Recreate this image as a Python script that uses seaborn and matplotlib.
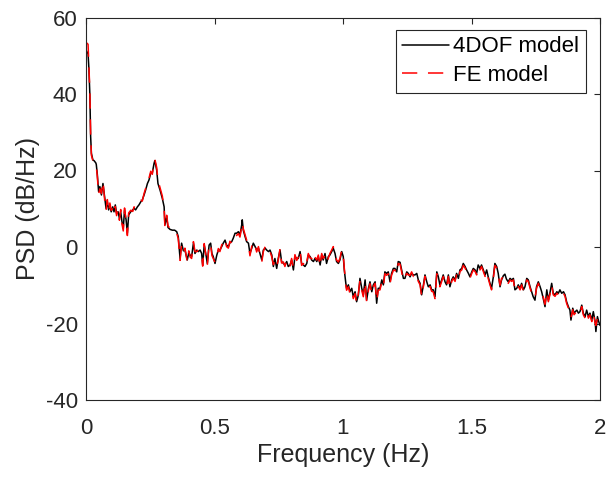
import numpy as np
import pandas as pd
import matplotlib
matplotlib.use("Agg")
import matplotlib.pyplot as plt
import seaborn as sns

freq = [
    0.000, 0.008, 0.011, 0.015, 0.018, 0.021, 0.027, 0.031, 0.038, 0.040,
    0.044, 0.049, 0.054, 0.060, 0.066, 0.073, 0.078, 0.083, 0.088, 0.093,
    0.098, 0.104, 0.109, 0.114, 0.119, 0.125, 0.130, 0.135, 0.140, 0.145,
    0.150, 0.156, 0.161, 0.166, 0.174, 0.182, 0.187, 0.193, 0.200, 0.206,
    0.213, 0.219, 0.226, 0.232, 0.239, 0.245, 0.252, 0.258, 0.265, 0.268,
    0.275, 0.280, 0.288, 0.297, 0.304, 0.307, 0.314, 0.319, 0.327, 0.336,
    0.345, 0.353, 0.359, 0.366, 0.372, 0.379, 0.385, 0.394, 0.400, 0.405,
    0.411, 0.418, 0.424, 0.431, 0.437, 0.444, 0.450, 0.454, 0.460, 0.467,
    0.472, 0.479, 0.485, 0.490, 0.495, 0.502, 0.509, 0.515, 0.521, 0.528,
    0.534, 0.541, 0.547, 0.554, 0.560, 0.567, 0.573, 0.580, 0.586, 0.593,
    0.599, 0.606, 0.608, 0.612, 0.619, 0.625, 0.632, 0.638, 0.645, 0.651,
    0.658, 0.664, 0.671, 0.677, 0.684, 0.690, 0.697, 0.703, 0.710, 0.716,
    0.723, 0.729, 0.735, 0.742, 0.748, 0.755, 0.761, 0.768, 0.774, 0.781,
    0.787, 0.794, 0.800, 0.807, 0.813, 0.820, 0.826, 0.833, 0.839, 0.846,
    0.852, 0.859, 0.865, 0.872, 0.878, 0.885, 0.891, 0.898, 0.904, 0.911,
    0.917, 0.923, 0.930, 0.936, 0.943, 0.949, 0.956, 0.962, 0.969, 0.975,
    0.982, 0.988, 0.995, 1.001, 1.005, 1.011, 1.014, 1.021, 1.027, 1.034,
    1.040, 1.047, 1.053, 1.060, 1.066, 1.073, 1.079, 1.086, 1.092, 1.099,
    1.105, 1.112, 1.118, 1.125, 1.131, 1.137, 1.144, 1.151, 1.157, 1.163,
    1.170, 1.176, 1.183, 1.189, 1.196, 1.202, 1.209, 1.215, 1.222, 1.228,
    1.235, 1.241, 1.248, 1.254, 1.261, 1.267, 1.274, 1.280, 1.287, 1.293,
    1.300, 1.306, 1.313, 1.319, 1.326, 1.332, 1.339, 1.345, 1.351, 1.358,
    1.365, 1.371, 1.377, 1.384, 1.390, 1.397, 1.403, 1.410, 1.416, 1.423,
    1.429, 1.436, 1.442, 1.449, 1.455, 1.462, 1.468, 1.475, 1.481, 1.488,
    1.494, 1.501, 1.507, 1.514, 1.520, 1.526, 1.533, 1.539, 1.546, 1.553,
    1.559, 1.565, 1.572, 1.578, 1.585, 1.591, 1.598, 1.604, 1.611, 1.617,
    1.624, 1.630, 1.636, 1.643, 1.650, 1.656, 1.663, 1.669, 1.676, 1.682,
    1.689, 1.695, 1.702, 1.708, 1.715, 1.721, 1.728, 1.734, 1.740, 1.747,
    1.753, 1.760, 1.767, 1.773, 1.779, 1.786, 1.793, 1.799, 1.805, 1.812,
    1.818, 1.825, 1.832, 1.838, 1.844, 1.851, 1.858, 1.864, 1.870, 1.877,
    1.883, 1.887, 1.894, 1.899, 1.904, 1.910, 1.916, 1.922, 1.929, 1.935,
    1.942, 1.948, 1.955, 1.961, 1.968, 1.974, 1.981, 1.984, 1.990, 1.995, 2.000,
]

psd_4dof = [
    51.5, 50.5, 47.0, 40.0, 29.0, 24.5, 22.7, 22.6, 22.0, 21.6,
    19.0, 14.5, 15.8, 13.6, 16.6, 12.7, 10.1, 11.8, 9.7, 11.0,
    9.2, 10.5, 9.2, 11.0, 8.8, 9.2, 7.5, 9.2, 6.6, 4.9,
    9.7, 7.1, 3.6, 8.4, 9.2, 9.7, 10.1, 9.7, 10.5, 11.0,
    11.8, 12.3, 13.6, 14.9, 16.6, 17.5, 19.3, 19.4, 21.9, 22.6,
    20.1, 16.6, 14.9, 12.7, 10.5, 5.8, 7.9, 5.1, 4.6, 4.4,
    4.4, 4.0, 2.7, -3.0, 1.0, -1.0, -0.8, -3.4, -1.5, -2.1,
    -2.5, 1.0, -1.7, -0.8, -1.2, -0.8, -1.7, -4.7, 0.5, -2.1,
    -4.3, 0.5, 1.0, -1.7, -2.5, -4.3, -2.1, -0.8, -0.8, 0.1,
    1.0, 1.8, 0.5, 0.1, 1.1, 1.4, 2.3, 3.6, 3.6, 4.0,
    3.1, 5.8, 7.1, 4.4, 2.7, 1.4, 1.0, -1.7, -0.3, 1.0,
    0.1, -0.8, -0.3, -1.7, -3.4, -0.8, -0.3, -0.8, -1.2, -0.8,
    -2.1, -5.1, -3.0, -5.6, -3.0, -0.8, -3.8, -4.3, -4.7, -3.8,
    -5.1, -4.7, -3.4, -6.0, -2.5, -3.0, -3.0, -1.2, -4.3, -4.7,
    -5.1, -4.3, -2.1, -2.5, -3.4, -3.8, -3.0, -3.8, -2.5, -4.7,
    -2.1, -3.4, -1.7, -4.3, -2.5, -2.1, -1.2, -0.3, -1.7, -3.8,
    -4.3, -3.4, -1.2, -2.5, -6.0, -9.5, -10.8, -9.9, -11.7, -10.8,
    -13.0, -11.7, -14.3, -12.5, -8.2, -10.8, -12.5, -8.6, -13.9, -10.8,
    -9.1, -11.7, -9.9, -9.1, -14.7, -10.8, -10.8, -8.6, -9.9, -6.5,
    -6.9, -6.5, -9.1, -6.9, -5.6, -5.6, -6.5, -3.8, -4.0, -6.0,
    -8.2, -8.2, -6.5, -6.9, -7.8, -6.9, -7.3, -7.3, -6.9, -8.6,
    -9.5, -12.5, -9.9, -7.3, -9.1, -10.4, -9.9, -11.2, -11.2, -13.0,
    -6.5, -7.8, -9.9, -8.6, -7.3, -9.1, -9.9, -7.3, -10.4, -8.6,
    -7.8, -8.6, -6.9, -8.2, -6.0, -5.6, -4.3, -5.1, -6.0, -6.9,
    -7.8, -6.5, -5.6, -6.0, -6.9, -4.7, -5.6, -4.7, -6.0, -7.3,
    -6.0, -7.8, -9.5, -10.8, -7.8, -4.3, -5.1, -6.9, -10.4, -8.6,
    -7.5, -7.1, -8.4, -9.1, -8.2, -8.6, -8.2, -11.2, -10.8, -9.9,
    -10.8, -9.5, -11.2, -10.4, -8.2, -8.6, -10.4, -11.7, -13.0, -13.9,
    -10.4, -9.1, -10.4, -11.7, -13.4, -15.6, -11.2, -13.9, -12.1, -9.5,
    -12.1, -12.5, -11.7, -12.1, -11.2, -12.1, -11.7, -12.5, -14.3, -15.6,
    -16.5, -19.1, -16.0, -17.3, -16.9, -16.5, -17.3, -16.9, -15.2, -17.3,
    -18.2, -16.5, -18.2, -17.3, -19.1, -16.9, -19.5, -22.1, -18.2, -19.5, -20.5,
]

psd_fe = [
    53.5, 53.0, 48.0, 40.5, 29.5, 24.0, 22.5, 22.3, 22.0, 21.0,
    18.5, 13.8, 15.2, 14.0, 17.2, 12.0, 9.5, 12.4, 9.2, 11.5,
    9.6, 10.0, 8.7, 10.6, 8.2, 9.8, 7.0, 9.8, 6.0, 4.2,
    10.2, 6.5, 3.0, 8.9, 9.6, 9.3, 10.5, 10.1, 10.8, 11.4,
    12.2, 12.0, 14.0, 15.3, 16.2, 18.0, 19.8, 19.0, 22.3, 22.9,
    20.8, 17.5, 15.5, 13.3, 10.0, 5.2, 8.3, 5.5, 4.9, 4.0,
    4.0, 3.6, 2.2, -3.5, 0.6, -1.4, -0.3, -3.9, -1.0, -2.6,
    -3.0, 1.4, -1.2, -1.2, -0.8, -1.2, -2.2, -5.0, 0.9, -2.6,
    -4.8, 0.9, 0.6, -2.2, -3.0, -4.0, -2.5, -0.4, -1.2, 0.5,
    1.4, 2.2, 0.1, -0.3, 1.5, 1.0, 2.7, 3.2, 3.0, 3.5,
    2.6, 5.2, 6.5, 4.8, 3.2, 1.8, 0.5, -2.3, 0.2, 1.4,
    0.5, -1.3, 0.1, -2.2, -3.9, -1.2, 0.1, -1.2, -0.8, -1.2,
    -2.6, -4.6, -3.5, -5.1, -3.5, -0.4, -4.2, -3.9, -5.1, -3.4,
    -4.7, -5.1, -3.0, -5.5, -2.0, -3.5, -2.6, -0.8, -4.8, -4.3,
    -5.5, -3.9, -1.7, -2.9, -3.0, -4.2, -2.6, -3.4, -2.1, -5.1,
    -1.7, -3.0, -2.1, -3.9, -2.9, -1.7, -0.8, 0.1, -1.3, -3.4,
    -3.9, -3.0, -0.8, -2.0, -5.5, -10.0, -11.3, -10.4, -12.2, -11.3,
    -13.5, -12.2, -14.8, -12.0, -8.7, -11.3, -13.0, -9.1, -14.4, -11.3,
    -9.6, -12.2, -10.4, -9.5, -14.2, -11.3, -11.2, -9.1, -10.4, -7.0,
    -7.4, -7.0, -9.6, -7.4, -6.1, -6.0, -7.0, -4.3, -4.5, -6.5,
    -8.7, -7.8, -6.9, -7.3, -7.4, -6.5, -7.7, -6.9, -7.3, -9.0,
    -9.9, -13.0, -10.3, -7.7, -9.6, -10.8, -10.3, -11.6, -11.7, -13.5,
    -7.0, -8.3, -10.4, -9.0, -7.7, -9.6, -10.4, -7.7, -10.9, -9.0,
    -8.2, -9.0, -7.3, -8.6, -6.4, -6.0, -4.8, -5.5, -6.4, -7.3,
    -8.2, -6.9, -6.0, -6.4, -7.3, -5.1, -6.0, -5.1, -6.4, -7.7,
    -6.4, -8.2, -9.9, -11.2, -8.2, -4.8, -5.5, -7.3, -10.0, -8.2,
    -7.9, -7.5, -8.8, -9.5, -8.6, -9.0, -8.6, -11.6, -11.2, -10.3,
    -11.2, -9.9, -11.6, -10.8, -8.6, -9.0, -10.8, -12.1, -12.6, -13.4,
    -10.8, -9.5, -10.8, -12.1, -13.0, -15.0, -11.6, -14.3, -12.5, -9.9,
    -12.5, -12.9, -12.1, -12.5, -11.6, -12.5, -12.1, -12.9, -14.7, -16.0,
    -16.9, -18.5, -16.4, -17.7, -17.3, -16.9, -17.7, -17.3, -15.6, -17.7,
    -18.6, -16.9, -18.6, -17.7, -19.5, -17.3, -19.9, -20.5, -18.6, -19.9, -20.0,
]

model_names = ["4DOF model", "FE model"]
x_ticks = [0, 0.5, 1, 1.5, 2]
x_tick_labels = ["0", "0.5", "1", "1.5", "2"]
y_ticks = [-40, -20, 0, 20, 40, 60]
y_tick_labels = ["-40", "-20", "0", "20", "40", "60"]

assert len(freq) == len(psd_4dof) == len(psd_fe)

sns.set_style("white")
plt.rcParams["font.family"] = ["Liberation Sans", "DejaVu Sans"]
plt.rcParams["axes.unicode_minus"] = False
AX_COLOR = "#262626"

df = pd.DataFrame({
    "Frequency": freq + freq,
    "PSD": psd_4dof + psd_fe,
    "model": [model_names[0]] * len(freq) + [model_names[1]] * len(freq),
})

fig = plt.figure(figsize=(6.09, 4.78), dpi=100)
ax = fig.add_axes([86 / 609, 1 - 400 / 478, 514 / 609, 382.5 / 478])

sns.lineplot(
    data=df, x="Frequency", y="PSD", hue="model", style="model",
    hue_order=model_names, style_order=model_names,
    palette={model_names[0]: "black", model_names[1]: "red"},
    dashes={model_names[0]: "", model_names[1]: (10, 7)},
    estimator=None, sort=False, linewidth=1.1, ax=ax,
)

ax.set_xlim(0, 2)
ax.set_ylim(-40, 60)
ax.set_xticks(x_ticks)
ax.set_xticklabels(x_tick_labels)
ax.set_yticks(y_ticks)
ax.set_yticklabels(y_tick_labels)
ax.set_xlabel("Frequency (Hz)", fontsize=18, color=AX_COLOR, labelpad=3)
ax.set_ylabel("PSD (dB/Hz)", fontsize=18, color=AX_COLOR, labelpad=4)
ax.tick_params(axis="both", which="both", direction="in", length=4.5, width=0.8,
               colors=AX_COLOR, labelsize=16, top=True, right=True)
ax.tick_params(axis="x", pad=13)
ax.tick_params(axis="y", pad=6)
for sp in ax.spines.values():
    sp.set_visible(True)
    sp.set_color(AX_COLOR)
    sp.set_linewidth(0.8)

handles, labels = ax.get_legend_handles_labels()
leg = ax.legend(handles, labels, loc="upper right", bbox_to_anchor=(0.973, 0.968),
                borderaxespad=0, frameon=True, fancybox=False, fontsize=16,
                handlelength=2.1, handletextpad=0.2, borderpad=0.3,
                labelspacing=0.35, framealpha=1)
leg.get_frame().set_edgecolor(AX_COLOR)
leg.get_frame().set_linewidth(0.8)
for t in leg.get_texts():
    t.set_color("black")

fig.savefig("out.png", dpi=100)
